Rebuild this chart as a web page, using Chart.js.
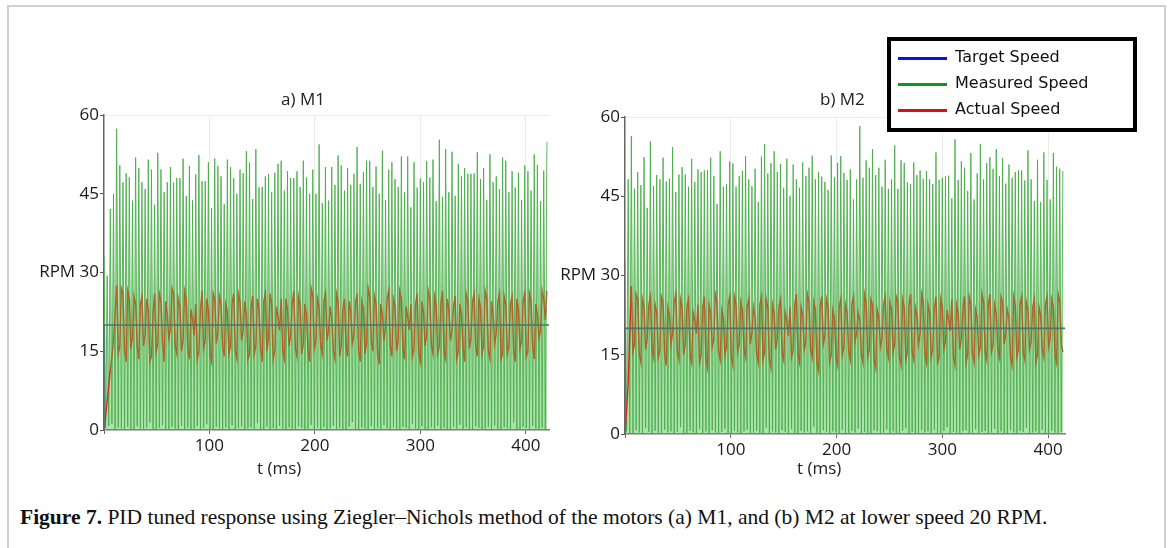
<!DOCTYPE html>
<html>
<head>
<meta charset="utf-8">
<script src="https://cdn.jsdelivr.net/npm/chart.js@4.4.1/dist/chart.umd.min.js"></script>
<style>
  body { margin: 0; width: 1170px; height: 548px; background: #fff; position: relative; overflow: hidden; font-family: "Open Sans", sans-serif; color: #222; }
  .frame { position: absolute; left: 7px; top: 5px; width: 1155px; height: 600px; border: 2px solid #d0d0d0; border-bottom: none; }
  .box { position: absolute; }
  .title { position: absolute; font-size: 17px; color: #222; white-space: nowrap; }
  .legend { position: absolute; left: 887px; top: 37px; width: 242px; height: 87px; border: 4px solid #000; background: #fff;
            font-family: "DejaVu Sans", sans-serif; font-size: 16px; color: #111; }
  .legend div { position: absolute; left: 64px; white-space: nowrap; line-height: 20px; }
  .legend span { position: absolute; left: 7px; width: 49px; height: 3px; }
  .caption { position: absolute; left: 20px; top: 505px; font-family: "Liberation Serif", serif; font-size: 21.5px; color: #111; white-space: nowrap; }
</style>
</head>
<body>
<div class="frame"></div>

<div class="box" style="left:0;top:100px;width:575px;height:370px"><canvas id="m1" width="575" height="370"></canvas></div>
<div class="box" style="left:545px;top:100px;width:530px;height:370px"><canvas id="m2" width="530" height="370"></canvas></div>

<div class="title" style="left:281px;top:87px">a) M1</div>
<div class="title" style="left:820px;top:87px">b) M2</div>
<div class="title" style="left:257px;top:456px">t (ms)</div>
<div class="title" style="left:797px;top:456px">t (ms)</div>

<div class="legend">
  <span style="top:16px;background:#0a10e8"></span><div style="top:6px">Target Speed</div>
  <span style="top:42px;background:#0a9a18"></span><div style="top:32px">Measured Speed</div>
  <span style="top:68px;background:#d81010"></span><div style="top:58px">Actual Speed</div>
</div>

<div class="caption"><b>Figure 7.</b> PID tuned response using Ziegler–Nichols method of the motors (a) M1, and (b) M2 at lower speed 20 RPM.</div>

<script>
// sampling: measured peaks every 3 ms, troughs half way between; actual speed every 1.5 ms
const sampleMs = 3;
const targetRpm = 20;
const yTicks = [0, 15, 30, 45, 60];

// M1 measured speed, peaks (t = 0, 3, 6 ... 420 ms)
const m1Peaks = [33, 29.4, 42.1,
  45.0, 57.4, 50.4, 47.2, 48.9, 48.1, 43.7, 51.9, 49.9, 47.2,
  45.9, 51.5, 49.6, 42.9, 52.8, 49.6, 45.3, 47.2, 50.1, 47.1,
  48.0, 48.0, 51.7, 44.6, 50.3, 43.8, 48.7, 52.4, 47.4, 47.4,
  51.0, 42.3, 51.7, 50.3, 48.3, 43.0, 51.5, 50.1, 48.0, 45.0,
  49.6, 48.9, 53.1, 50.9, 44.0, 53.5, 46.2, 46.3, 48.3, 48.8,
  45.3, 49.0, 50.7, 51.3, 45.6, 49.3, 48.0, 48.0, 49.3, 46.3,
  51.3, 48.1, 45.0, 49.6, 45.0, 54.4, 43.2, 50.1, 43.7, 50.1,
  46.7, 52.3, 50.4, 45.6, 49.9, 46.7, 48.8, 53.9, 46.9, 49.1,
  51.3, 51.3, 46.3, 50.2, 45.0, 53.2, 43.8, 49.6, 51.0, 47.8,
  46.3, 52.1, 45.3, 52.1, 42.4, 51.0, 46.2, 47.9, 47.2, 51.2,
  48.1, 51.5, 43.6, 55.3, 44.4, 53.5, 45.3, 53.0, 44.6, 50.7,
  48.3, 49.9, 48.8, 48.8, 48.9, 52.9, 47.8, 49.9, 43.8, 52.5,
  47.2, 48.3, 45.9, 51.9, 51.3, 45.3, 49.3, 46.2, 49.0, 43.8,
  50.4, 49.3, 45.6, 52.5, 50.5, 43.6, 49.4, 54.9];

// M1 measured speed, troughs between the peaks
const m1Troughs = [
  0.4, 0.8, 1.2, 0, 0.5, 0.3, 0, 0.6, 0.2, 0,
  0.7, 0.3, 0, 0.5, 1.4, 0.2, 0, 0.4, 0.9, 0.1,
  0, 0.6, 0.3, 0, 0.8, 0.2, 0.5, 0, 0.3, 0.7,
  0, 0.4, 1.1, 0.2, 0, 0.6, 0.3, 0, 0.5, 0.2,
  0.9, 0, 0.4, 0.7, 0, 0.3, 0.5, 0, 1.3, 0.2,
  0, 0.6, 0.1, 0.4, 0, 0.8, 0.3, 0, 0.5, 0.2,
  0, 0.7, 0.4, 0, 0.3, 1.0, 0, 0.5, 0.2, 0.6,
  0, 0.3, 0.8, 0, 0.4, 0.2, 0, 0.6, 1.5, 0.1,
  0, 0.5, 0.3, 0, 0.7, 0.2, 0.4, 0, 0.9, 0.3,
  0, 0.5, 0.2, 0, 0.6, 0.4, 0, 1.2, 0.3, 0,
  0.7, 0.2, 0, 0.5, 0.3, 0.8, 0, 0.4, 0.1, 0,
  0.6, 0.3, 1.0, 0, 0.5, 0.2, 0, 0.7, 0.4, 0,
  0.3, 0.6, 0, 0.9, 0.2, 0, 0.5, 0.3, 0, 1.4,
  0.2, 0, 0.6, 0.4, 0, 0.8, 0.3, 0, 0.5, 0.2];

// M1 actual speed at t = 0, 3, 6 ... 420 ms
const m1Actual = [
  0, 5.5, 11.5, 17, 27.5, 16, 26, 13, 25, 17.5,
  24, 13.5, 25.5, 18, 23, 14, 26, 16.5, 24.5, 13,
  22, 19, 26, 14.5, 23.5, 17, 25, 13.5, 21, 24,
  15, 26.5, 17, 23, 13, 25, 18.5, 24, 14, 22.5,
  16, 26, 13.5, 24.5, 19, 22, 14.5, 25.5, 16, 23,
  13, 26, 17.5, 24, 15, 21.5, 25, 13.5, 23, 18,
  26.5, 14, 24, 16.5, 22, 13, 25.5, 17, 23.5, 14.5,
  26, 19, 21, 13.5, 24.5, 16, 25, 14, 22.5, 18,
  26, 13, 23, 16.5, 25.5, 15, 24, 12.5, 22, 19.5,
  26.5, 14, 23.5, 17, 25, 13.5, 21.5, 24, 15.5, 26,
  13, 22.5, 18, 25, 14.5, 24, 16, 26.5, 13.5, 23,
  19, 25.5, 15, 22, 13, 24.5, 17.5, 26, 14, 23.5,
  16, 25, 13.5, 22, 18.5, 26, 14.5, 24, 16, 25.5,
  13, 23, 17, 26, 15, 24.5, 13.5, 22, 19, 25,
  26.5];

// M1 actual speed at t = 1.5, 4.5 ... 418.5 ms
const m1ActualMid = [
  2.5, 8.5, 14, 22, 14.5, 27, 15, 26.5, 15.5, 25.5,
  16, 24, 16, 25, 13, 22, 15, 26, 17, 24.5,
  17.5, 27, 16, 25, 15, 26.5, 15.5, 23, 18, 13.5,
  23, 15.5, 25, 14.5, 26, 16.5, 25.5, 16, 24, 14.5,
  24, 15, 26, 17, 24.5, 13.5, 23, 14.5, 25, 15.5,
  24.5, 15, 26, 13.5, 23.5, 19, 15, 25, 16, 24,
  15.5, 25.5, 14.5, 24, 15, 27, 15.5, 25, 16, 24.5,
  17, 23.5, 15, 26, 14, 23, 16, 24.5, 16.5, 24,
  15, 24.5, 14.5, 27, 17, 25.5, 14.5, 24, 17, 25,
  16, 25, 15, 26.5, 15.5, 23.5, 19, 14, 24, 14.5,
  24.5, 16, 26.5, 16, 25.5, 14.5, 24, 15, 25, 17,
  23.5, 13.5, 24, 15.5, 26, 15.5, 24.5, 16, 25, 14.5,
  26.5, 15, 24.5, 16.5, 24.5, 13.5, 25.5, 14.5, 24, 15,
  25, 15.5, 24.5, 14, 26, 16, 24, 17.5, 26.5, 21];

// M2 measured speed, peaks (t = 0, 3, 6 ... 414 ms)
const m2Peaks = [32.8,
  48.2, 56.4, 46.4, 49.6, 47.1, 52.4, 42.8, 55.4, 46.9, 49.0,
  48.2, 52.3, 47.8, 48.3, 54.3, 45.8, 49.1, 50.5, 49.1, 46.8,
  52.1, 47.7, 50.1, 49.6, 49.9, 49.9, 52.3, 48.8, 43.5, 53.5,
  46.8, 47.3, 51.6, 51.2, 46.8, 48.8, 49.8, 52.6, 48.2, 46.9,
  50.2, 43.9, 52.5, 54.9, 49.3, 51.3, 53.5, 49.6, 51.1, 46.6,
  52.1, 45.1, 51.0, 48.2, 46.6, 51.4, 48.8, 50.4, 52.7, 48.2,
  49.6, 48.7, 47.7, 46.2, 52.7, 48.6, 51.3, 52.6, 49.4, 48.1,
  50.1, 44.4, 48.2, 58.3, 48.5, 51.8, 50.4, 53.9, 49.0, 50.4,
  46.8, 51.9, 46.4, 48.2, 54.6, 46.4, 51.8, 51.3, 47.6, 47.3,
  51.4, 49.0, 49.9, 48.3, 49.8, 48.2, 47.3, 53.3, 48.1, 48.5,
  48.8, 48.9, 44.6, 55.8, 48.1, 51.6, 50.4, 46.0, 53.2, 44.4,
  49.3, 54.9, 48.2, 51.3, 52.4, 50.2, 53.9, 48.8, 52.2, 47.4,
  51.0, 48.5, 49.6, 49.9, 49.9, 48.0, 53.7, 48.2, 44.1, 51.9,
  43.9, 53.3, 48.1, 44.4, 53.2, 50.6, 50.2, 49.8];

// M2 measured speed, troughs between the peaks
const m2Troughs = [
  0.5, 0.2, 0, 0.7, 0.3, 0, 1.1, 0.4, 0, 0.6,
  0.2, 0, 0.8, 0.3, 0.5, 0, 0.4, 1.3, 0.1, 0,
  0.6, 0.3, 0, 0.9, 0.2, 0.5, 0, 0.7, 0.3, 0,
  0.4, 1.0, 0.2, 0, 0.6, 0.3, 0, 0.5, 0.8, 0,
  0.3, 0.6, 0, 0.2, 1.2, 0, 0.5, 0.3, 0, 0.7,
  0.4, 0, 0.9, 0.2, 0, 0.6, 0.3, 0.5, 0, 1.4,
  0.2, 0, 0.7, 0.4, 0, 0.5, 0.3, 0, 0.8, 0.1,
  0, 0.6, 0.3, 1.0, 0, 0.4, 0.2, 0, 0.7, 0.5,
  0, 0.3, 0.9, 0, 0.5, 0.2, 0, 0.6, 1.1, 0,
  0.4, 0.2, 0, 0.7, 0.3, 0.5, 0, 0.8, 0.2, 0,
  0.6, 1.3, 0, 0.4, 0.3, 0, 0.5, 0.7, 0, 0.2,
  0.9, 0, 0.4, 0.6, 0, 0.3, 1.0, 0, 0.5, 0.2,
  0, 0.7, 0.3, 0, 0.6, 0.4, 1.2, 0, 0.3, 0.5,
  0, 0.8, 0.2, 0, 0.6, 0.3, 0, 0.4];

// M2 actual speed at t = 0, 3, 6 ... 414 ms
const m2Actual = [
  0, 9.6, 28, 17, 25.5, 13.5, 24, 18, 26, 14.5,
  23, 16, 25, 13, 22.5, 19, 26.5, 14, 24, 17,
  25.5, 13.5, 21.5, 24.5, 15, 26, 12.5, 23, 18, 25,
  14, 22, 16.5, 26, 13, 24.5, 17, 23.5, 14.5, 25.5,
  19, 22, 13.5, 26, 15.5, 24, 12.5, 23, 18, 25.5,
  14, 21.5, 24, 16, 26.5, 13.5, 22.5, 17.5, 25, 14.5,
  23.5, 12, 26, 18.5, 24, 15, 22, 13, 25.5, 16.5,
  23, 14, 26, 19, 21.5, 13.5, 25, 16, 24.5, 12.5,
  22, 18, 26, 14.5, 23.5, 17, 25, 13, 24, 15.5,
  26.5, 14, 22.5, 19, 25, 13.5, 23, 16, 26, 14.5,
  24, 17.5, 21.5, 25.5, 13, 23, 18, 26, 15, 24.5,
  13.5, 22, 16.5, 25, 14, 26.5, 17, 23, 14.5, 25,
  19, 22, 13, 24.5, 16, 26, 14, 23.5, 17.5, 25.5,
  15, 22.5, 14.5, 26, 18, 24, 13.5, 25, 15.5];

// M2 actual speed at t = 1.5, 4.5 ... 412.5 ms
const m2ActualMid = [
  4.5, 19, 15.5, 26.5, 15, 25.5, 16, 24.5, 16, 24.5,
  14.5, 26, 15, 24, 17, 25, 15.5, 25.5, 15, 24,
  15, 23, 19, 13.5, 24, 14, 24.5, 16.5, 26.5, 15.5,
  23.5, 15, 24.5, 14.5, 26, 15.5, 25, 16, 24, 17,
  24, 15, 24.5, 14, 25.5, 14, 24.5, 16, 24, 15.5,
  23, 18.5, 14.5, 24.5, 15, 24, 16, 26.5, 16, 25,
  13.5, 24, 17, 25.5, 13.5, 23.5, 14.5, 24, 15, 24.5,
  15.5, 24.5, 17.5, 23, 15, 26.5, 14.5, 25.5, 14, 23.5,
  16.5, 24.5, 16, 25, 15.5, 26, 14.5, 25.5, 14, 24.5,
  15.5, 24, 17, 26.5, 15, 24.5, 14.5, 24, 13.5, 25.5,
  16, 23.5, 19.5, 14.5, 24.5, 16, 24, 13.5, 26, 15,
  23.5, 15, 26.5, 15.5, 24.5, 15.5, 24.5, 16, 26, 17,
  23.5, 14.5, 26, 14.5, 24.5, 15.5, 25, 16, 24, 13.5,
  24, 16, 24.5, 16.5, 25.5, 15, 26.5, 17];

const m1MaxT = 422;
const m2MaxT = 416;

function measuredPoints(peaks, troughs) {
    const pts = [];
    peaks.forEach((p, i) => {
        pts.push({ x: i * sampleMs, y: p });
        if (i < troughs.length) pts.push({ x: i * sampleMs + sampleMs / 2, y: troughs[i] });
    });
    return pts;
}

function actualPoints(vals, mids) {
    const pts = [];
    vals.forEach((v, i) => {
        pts.push({ x: i * sampleMs, y: v });
        if (i < mids.length) pts.push({ x: i * sampleMs + sampleMs / 2, y: mids[i] });
    });
    return pts;
}

const tickFont = { family: 'Open Sans', size: 17 };

function makeChart(id, peaks, troughs, actual, actualMid, maxT, pad, yWidth, xHeight) {
    const ctx = document.getElementById(id);
    return new Chart(ctx, {
        type: 'line',
        data: {
            datasets: [{
                label: 'Target Speed',
                data: [{ x: 0, y: 0 }, { x: 0, y: targetRpm }, { x: maxT, y: targetRpm }],
                borderColor: '#4b7670',
                borderWidth: 1.6,
                pointRadius: 0,
                fill: false
            }, {
                label: 'Actual Speed',
                data: actualPoints(actual, actualMid),
                // red where it rises alone at the start, brown once it runs inside the green
                borderColor: 'rgba(172,98,38,0.95)',
                segment: { borderColor: s => (s.p0.parsed.x < 6 ? '#e2261a' : undefined) },
                borderWidth: 1.4,
                pointRadius: 0,
                fill: false
            }, {
                label: 'Measured Speed',
                data: measuredPoints(peaks, troughs),
                borderColor: 'rgba(70,170,70,0.85)',
                backgroundColor: 'rgba(70,190,70,0.45)',
                borderWidth: 1,
                pointRadius: 0,
                fill: 'origin'
            }]
        },
        options: {
            responsive: false,
            animation: false,
            events: [],
            layout: { padding: pad },
            plugins: {
                legend: { display: false },
                tooltip: { enabled: false }
            },
            scales: {
                x: {
                    type: 'linear',
                    min: 0,
                    max: maxT,
                    afterFit: s => { s.height = xHeight; },
                    ticks: {
                        stepSize: 100,
                        includeBounds: false,
                        maxRotation: 0,
                        padding: 2,
                        font: tickFont,
                        color: '#1a1a1a',
                        callback: v => (v === 0 ? '' : v)
                    },
                    grid: {
                        color: c => (c.tick && c.tick.value > 0 ? '#ebebeb' : 'rgba(0,0,0,0)'),
                        tickColor: '#666',
                        tickLength: 4
                    },
                    border: { color: '#777', width: 1.5 }
                },
                y: {
                    min: 0,
                    max: 60,
                    afterFit: s => { s.width = yWidth; },
                    afterBuildTicks: s => { s.ticks = yTicks.map(v => ({ value: v })); },
                    ticks: {
                        padding: 1,
                        font: tickFont,
                        color: '#1a1a1a',
                        callback: v => (v === 30 ? 'RPM 30' : v)
                    },
                    grid: {
                        color: c => (c.tick && c.tick.value === 60 ? '#ebebeb' : 'rgba(0,0,0,0)'),
                        tickColor: '#555',
                        tickLength: 4
                    },
                    border: { color: '#666', width: 1.5 }
                }
            }
        }
    });
}

makeChart('m1', m1Peaks, m1Troughs, m1Actual, m1ActualMid, m1MaxT, { top: 15, right: 26, left: 0, bottom: 0 }, 104, 40);
makeChart('m2', m2Peaks, m2Troughs, m2Actual, m2ActualMid, m2MaxT, { top: 17, right: 10, left: 0, bottom: 0 }, 80, 36);
</script>
</body>
</html>
